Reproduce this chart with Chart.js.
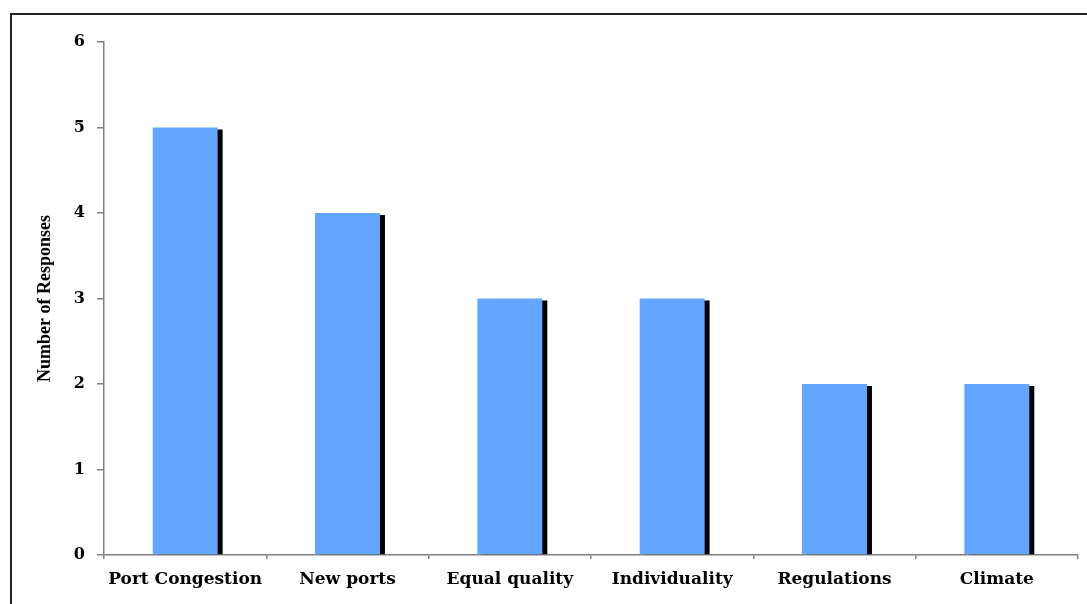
<!DOCTYPE html>
<html>
<head>
<meta charset="utf-8">
<script src="https://cdn.jsdelivr.net/npm/chart.js@4"></script>
<style>
  html, body { margin: 0; padding: 0; background: #fff; }
  #wrap { position: relative; width: 1087px; height: 604px; overflow: hidden; }
  #frame { position: absolute; left: 10px; top: 13px; width: 1100px; height: 620px;
           border-left: 2px solid #222; border-top: 2px solid #222; }
  canvas { position: absolute; left: 0; top: 0; }
</style>
</head>
<body>
<div id="wrap">
  <div id="frame"></div>
  <canvas id="myChart" width="1087" height="604"></canvas>
</div>
<script>
const categories = ["Port Congestion", "New ports", "Equal quality", "Individuality", "Regulations", "Climate"];
const responses = [5, 4, 3, 3, 2, 2];
const yTicks = [0, 1, 2, 3, 4, 5, 6];

// the old picture is stretched sideways, a wide serif gets close to that
const tickFont = "'DejaVu Serif', serif";
const titleFont = "'Liberation Serif', 'Times New Roman', serif";

// black drop shadow to the right of each bar
const barShadow = {
    id: "barShadow",
    beforeDatasetsDraw(chart) {
        const ctx = chart.ctx;
        const meta = chart.getDatasetMeta(0);
        ctx.save();
        ctx.fillStyle = "#000";
        meta.data.forEach((bar) => {
            const w = bar.width;
            const left = bar.x - w / 2 + 5;
            const top = bar.y + 2;
            ctx.fillRect(left, top, w, bar.base - top);
        });
        ctx.restore();
    },
};

const ctx = document.getElementById("myChart").getContext("2d");
const chart = new Chart(ctx, {
    type: "bar",
    data: {
        labels: categories,
        datasets: [
            {
                label: "Number of Responses",
                data: responses,
                backgroundColor: "#63a6ff",
                borderWidth: 0,
                barPercentage: 0.4,
                categoryPercentage: 1,
            },
        ],
    },
    options: {
        responsive: false,
        animation: false,
        layout: {
            padding: { left: 0, top: 42, right: 9, bottom: 0 },
        },
        plugins: {
            legend: { display: false },
            tooltip: { enabled: false },
        },
        scales: {
            x: {
                afterFit: function (scale) {
                    scale.height = 49;
                },
                border: { color: "#808080", width: 1.5 },
                grid: {
                    offset: true,
                    drawOnChartArea: false,
                    drawTicks: true,
                    tickLength: 4,
                    color: "#808080",
                    lineWidth: 1.5,
                },
                ticks: {
                    color: "#000",
                    padding: 10,
                    maxRotation: 0,
                    font: { family: tickFont, size: 17, weight: "bold" },
                },
            },
            y: {
                min: 0,
                max: 6,
                afterFit: function (scale) {
                    scale.width = 104;
                },
                afterBuildTicks: function (scale) {
                    scale.ticks = yTicks.map((v) => ({ value: v }));
                },
                border: { color: "#808080", width: 1.5 },
                grid: {
                    drawOnChartArea: false,
                    drawTicks: true,
                    tickLength: 7,
                    color: "#808080",
                    lineWidth: 1.5,
                },
                ticks: {
                    color: "#000",
                    padding: 12,
                    font: { family: tickFont, size: 16, weight: "bold" },
                },
                title: {
                    display: true,
                    text: "Number of Responses",
                    color: "#000",
                    padding: { top: 35, bottom: 0 },
                    font: { family: titleFont, size: 18, weight: "bold" },
                },
            },
        },
    },
    plugins: [barShadow],
});
</script>
</body>
</html>
